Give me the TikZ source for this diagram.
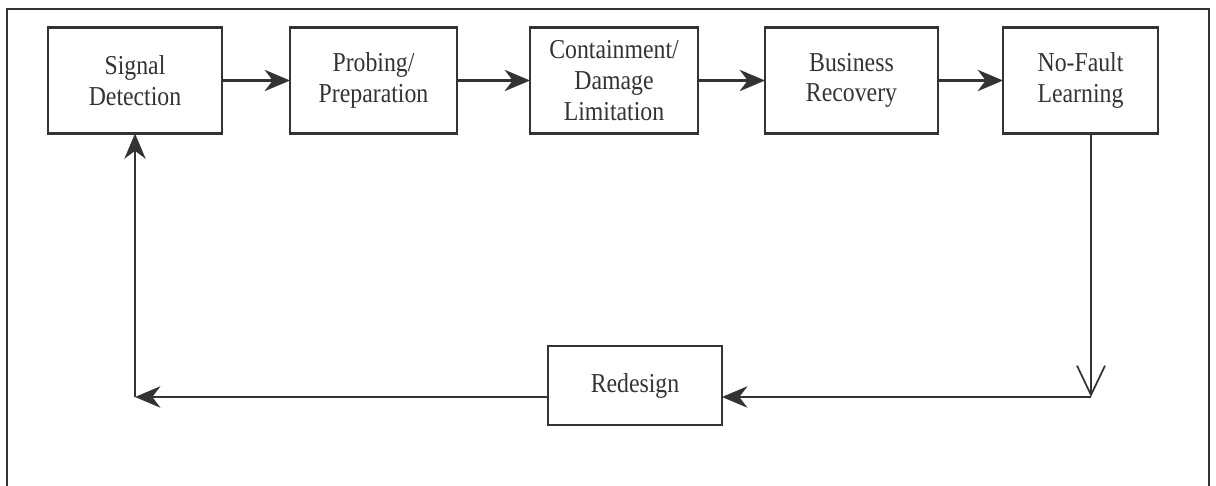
\documentclass[tikz,border=0pt]{standalone}
\usepackage{fontspec}
\setmainfont{Liberation Serif}[FakeStretch=0.87]
\usetikzlibrary{arrows.meta}
\definecolor{ink}{HTML}{333333}
\tikzset{
  stagebox/.style={draw=ink, line width=1.6pt, inner sep=0pt, outer sep=0pt,
    minimum height=106*0.75pt, align=center, text=ink,
    font=\fontsize{20.5pt}{23pt}\selectfont},
  flow/.style={draw=ink, line width=1.6pt, -{Stealth[length=19pt,width=16pt,inset=6pt]}},
  thinflow/.style={draw=ink, line width=1.3pt, -{Straight Barb[length=22pt,width=21pt,line width=1.3pt]}},
}
\begin{document}
\begin{tikzpicture}[x=0.75pt,y=0.75pt]
\useasboundingbox (0,0) rectangle (1216,485);
\clip (0,0) rectangle (1216,485);
\fill[white] (0,0) rectangle (1216,485);
\draw[ink, line width=1.6pt] (7,-20) -- (7,476) -- (1209,476) -- (1209,-20);
\node[stagebox, minimum width=174*0.75pt] (sd) at (135,404.5) {Signal\\Detection};
\node[stagebox, minimum width=167*0.75pt] (pp) at (373.5,404.5) {Probing/\\Preparation};
\node[stagebox, minimum width=168*0.75pt] (cd) at (614,404.5) {Containment/\\Damage\\Limitation};
\node[stagebox, minimum width=173*0.75pt] (br) at (851.5,404.5) {Business\\Recovery};
\node[stagebox, minimum width=155*0.75pt] (nf) at (1080.5,404.5) {No-Fault\\Learning};
\node[stagebox, minimum width=174*0.75pt, minimum height=79*0.75pt] (rd) at (635,99.5) {Redesign};
\coordinate (c1) at (1091,88);
\coordinate (c2) at (135,88);
\draw[flow] (sd) -- (pp);
\draw[flow] (pp) -- (cd);
\draw[flow] (cd) -- (br);
\draw[flow] (br) -- (nf);
\draw[thinflow] (nf.south -| c1) -- (c1);
\draw[flow] (c1) -- (rd.east |- c1);
\draw[flow] (rd.west |- c1) -- (c2);
\draw[flow, line width=1.3pt] (c2) -- (sd.south);
\end{tikzpicture}
\end{document}
